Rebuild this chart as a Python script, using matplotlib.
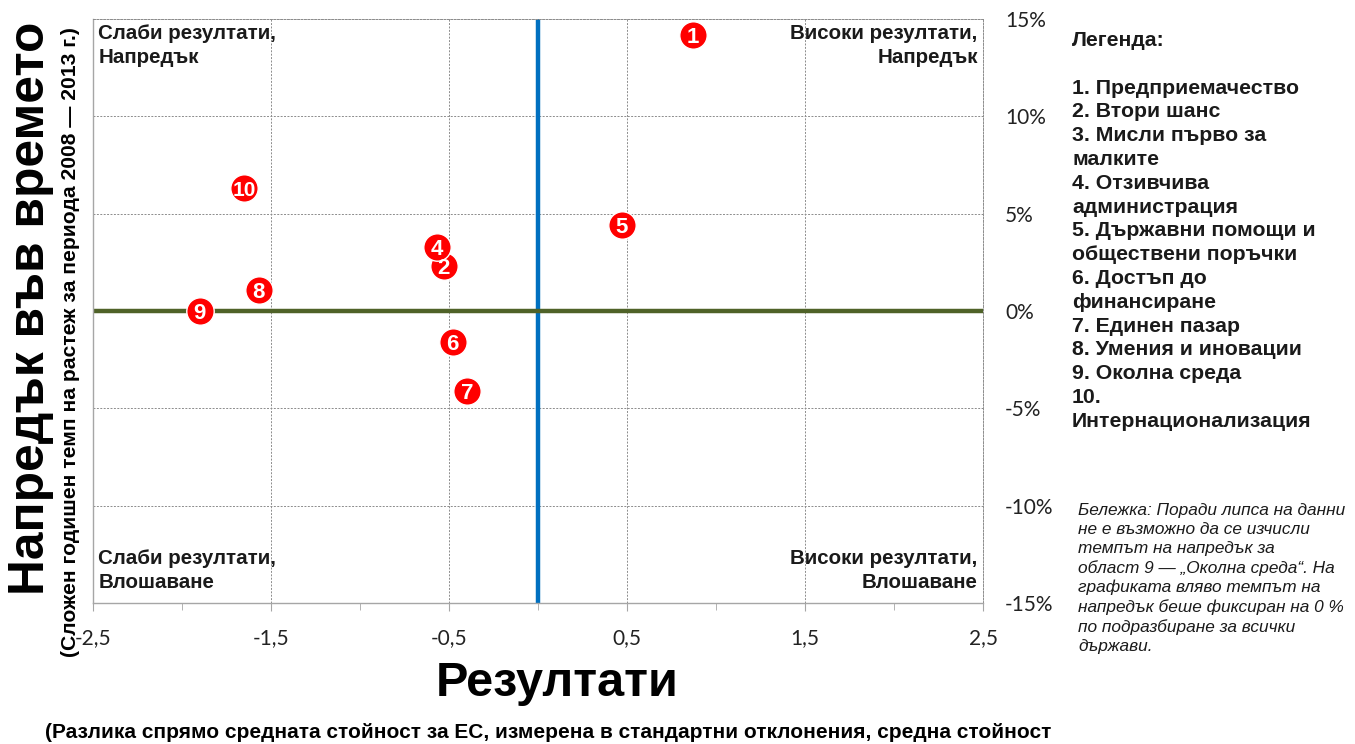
import matplotlib
matplotlib.use("Agg")
import matplotlib.pyplot as plt
from matplotlib.ticker import FixedLocator, FuncFormatter

# ── Data ─────────────────────────────────────────────────────────────────────
area_ids = [1, 2, 4, 5, 6, 7, 8, 9, 10]
results  = [0.87, -0.53, -0.57, 0.47, -0.48, -0.40, -1.57, -1.90, -1.65]   # st. dev. vs EU mean
progress = [14.2, 2.3, 3.3, 4.4, -1.6, -4.1, 1.1, 0.0, 6.3]                 # % CAGR 2008-2013

x_ticks = [-2.5, -1.5, -0.5, 0.5, 1.5, 2.5]
y_ticks = [-15, -10, -5, 0, 5, 10, 15]

legend_lines = [
    "Легенда:",
    "",
    "1. Предприемачество",
    "2. Втори шанс",
    "3. Мисли първо за",
    "малките",
    "4. Отзивчива",
    "администрация",
    "5. Държавни помощи и",
    "обществени поръчки",
    "6. Достъп до",
    "финансиране",
    "7. Единен пазар",
    "8. Умения и иновации",
    "9. Околна среда",
    "10.",
    "Интернационализация",
]

note_lines = [
    "Бележка: Поради липса на данни",
    "не е възможно да се изчисли",
    "темпът на напредък за",
    "област 9 — „Околна среда“. На",
    "графиката вляво темпът на",
    "напредък беше фиксиран на 0 %",
    "по подразбиране за всички",
    "държави.",
]

BOLD = "Liberation Sans"
TICK_FONT = "Lato"
GRID = "#8c8c8c"

W, H = 1355, 744
fig = plt.figure(figsize=(W / 100, H / 100), dpi=100)
ax = fig.add_axes([93 / W, (H - 603) / H, (983 - 93) / W, (603 - 19) / H])

ax.set_xlim(-2.5, 2.5)
ax.set_ylim(-15, 15)

# grid + spines
ax.xaxis.set_major_locator(FixedLocator(x_ticks))
ax.xaxis.set_minor_locator(FixedLocator([-2, -1, 0, 1, 2]))
ax.yaxis.set_major_locator(FixedLocator(y_ticks))
ax.grid(True, which="major", color=GRID, linestyle=(0, (2, 1.5)), linewidth=0.7, zorder=0)
ax.set_axisbelow(True)
for side in ["top", "right"]:
    ax.spines[side].set_linestyle((0, (2, 1.5)))
    ax.spines[side].set_color(GRID)
    ax.spines[side].set_linewidth(0.7)
for side in ["left", "bottom"]:
    ax.spines[side].set_color("#a6a6a6")
    ax.spines[side].set_linewidth(1.0)

ax.xaxis.set_major_formatter(FuncFormatter(lambda v, p: f"{v:.1f}".replace(".", ",")))
ax.yaxis.set_major_formatter(FuncFormatter(lambda v, p: f"{v:.0f}%"))
ax.yaxis.tick_right()
ax.tick_params(axis="x", which="both", direction="out", colors="#a6a6a6",
               labelcolor="#222222", labelsize=15, pad=12)
ax.tick_params(axis="x", which="major", length=6)
ax.tick_params(axis="x", which="minor", length=5)
ax.tick_params(axis="y", length=0, labelsize=15, labelcolor="#222222", pad=16)
for lab in ax.get_xticklabels() + ax.get_yticklabels():
    lab.set_fontfamily(TICK_FONT)

# quadrant dividers
ax.axvline(0, color="#0070C0", linewidth=3.2, zorder=2)
ax.axhline(0, color="#4F6228", linewidth=3.2, zorder=2)

# points
ax.scatter(results, progress, s=390, color="#FF0000", edgecolor="white",
           linewidth=1.0, zorder=3, clip_on=False)
for i, xv, yv in zip(area_ids, results, progress):
    ax.text(xv, yv, str(i), color="white", fontsize=16 if i < 10 else 15,
            fontweight="bold", family=BOLD, ha="center", va="center_baseline",
            zorder=4)

# quadrant captions
q_kw = dict(fontsize=14.75, fontweight="bold", family=BOLD, color="#1a1a1a",
            linespacing=1.37, transform=ax.transAxes)
ax.text(0.006, 0.992, "Слаби резултати,\nНапредък", ha="left", va="top", **q_kw)
ax.text(0.994, 0.992, "Високи резултати,\nНапредък", ha="right", va="top", **q_kw)
ax.text(0.006, 0.018, "Слаби резултати,\nВлошаване", ha="left", va="bottom", **q_kw)
ax.text(0.994, 0.018, "Високи резултати,\nВлошаване", ha="right", va="bottom", **q_kw)

# axis titles
fig.text(31 / W, 1 - 308 / H, "Напредък във времето", rotation=90,
         ha="center", va="center", fontsize=35.7, fontweight="bold", family=BOLD)
fig.text(71 / W, 1 - 342 / H,
         "(Сложен годишен темп на растеж за периода 2008 — 2013 г.)",
         rotation=90, ha="center", va="center", fontsize=15.2,
         fontweight="bold", family=BOLD)
fig.text(557 / W, 1 - 683 / H, "Резултати", ha="center", va="center",
         fontsize=35, fontweight="bold", family=BOLD)
fig.text(548 / W, 1 - 733 / H,
         "(Разлика спрямо средната стойност за ЕС, измерена в стандартни "
         "отклонения, средна стойност",
         ha="center", va="center", fontsize=15, fontweight="bold", family=BOLD)

# legend block and note
fig.text(1072 / W, 1 - 31 / H, "\n".join(legend_lines), ha="left", va="top",
         fontsize=15.3, fontweight="bold", family=BOLD, color="#1a1a1a",
         linespacing=1.32)
fig.text(1078 / W, 1 - 503 / H, "\n".join(note_lines), ha="left", va="top",
         fontsize=12.4, fontstyle="italic", family=BOLD, color="#1a1a1a",
         linespacing=1.32)

fig.savefig("out.png", dpi=100)
